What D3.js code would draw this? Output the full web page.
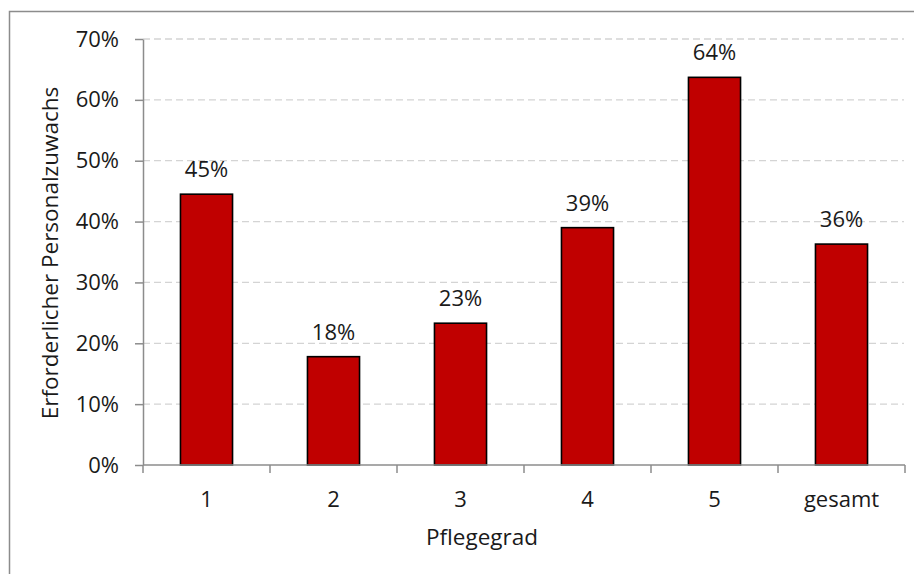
<!DOCTYPE html>
<html lang="de">
<head>
<meta charset="UTF-8">
<title>Personalzuwachs nach Pflegegrad</title>
<script src="https://d3js.org/d3.v7.min.js"></script>
<style>
    body { margin: 0; background: #fff; }
    svg { display: block; font-family: "Open Sans", sans-serif; }
</style>
</head>
<body>
<svg id="chart" width="914" height="574"></svg>
<script>
    // data
    const categories = ["1", "2", "3", "4", "5", "gesamt"];
    const values = [0.445, 0.178, 0.233, 0.390, 0.637, 0.363];
    const labels = ["45%", "18%", "23%", "39%", "64%", "36%"];
    const yTicks = [0, 0.1, 0.2, 0.3, 0.4, 0.5, 0.6, 0.7];

    const svg = d3.select("#chart");
    const plotLeft = 143, plotRight = 905, plotTop = 39, plotBottom = 465;
    const ink = "#1a1a1a";

    // outer frame, runs past the right and bottom edges
    svg.append("rect")
        .attr("x", 9.5).attr("y", 11.5)
        .attr("width", 930).attr("height", 600)
        .attr("fill", "none")
        .attr("stroke", "#8c8c8c")
        .attr("stroke-width", 1.5);

    const x = d3.scaleBand()
        .domain(categories)
        .range([plotLeft, plotRight])
        .paddingInner(0.59)
        .paddingOuter(0.295);

    const y = d3.scaleLinear()
        .domain([0, 0.7])
        .range([plotBottom, plotTop]);

    // gridlines
    svg.append("g")
        .selectAll("line")
        .data(yTicks.filter(d => d > 0))
        .enter().append("line")
        .attr("x1", plotLeft).attr("x2", plotRight - 1)
        .attr("y1", d => y(d)).attr("y2", d => y(d))
        .attr("stroke", "#d4d4d4")
        .attr("stroke-width", 1.3)
        .attr("stroke-dasharray", "7,4");

    // y axis
    const yAxis = svg.append("g")
        .attr("transform", `translate(${plotLeft},0)`)
        .call(d3.axisLeft(y).tickValues(yTicks).tickFormat(d3.format(".0%")).tickSizeInner(8).tickSizeOuter(0).tickPadding(16));
    yAxis.select(".domain").attr("stroke", "#8c8c8c").attr("stroke-width", 1.5);
    yAxis.selectAll(".tick line").attr("stroke", "#8c8c8c").attr("stroke-width", 1.5);
    yAxis.selectAll(".tick text").attr("font-size", 22).attr("fill", ink).attr("font-family", "Open Sans");

    // bars
    svg.append("g")
        .selectAll("rect")
        .data(values)
        .enter().append("rect")
        .attr("x", (d, i) => x(categories[i]))
        .attr("y", d => y(d))
        .attr("width", x.bandwidth())
        .attr("height", d => plotBottom - y(d))
        .attr("fill", "#c00000")
        .attr("stroke", "#000")
        .attr("stroke-width", 1.6);

    // x axis with ticks between categories
    const xAxis = svg.append("g").attr("transform", `translate(0,${plotBottom})`);
    xAxis.append("line")
        .attr("x1", plotLeft).attr("x2", plotRight)
        .attr("stroke", "#8c8c8c").attr("stroke-width", 1.5);
    const step = x.step();
    const edges = d3.range(categories.length + 1).map(i => plotLeft + i * step);
    xAxis.selectAll(".sep")
        .data(edges)
        .enter().append("line")
        .attr("class", "sep")
        .attr("x1", d => d).attr("x2", d => d)
        .attr("y1", 0).attr("y2", 8)
        .attr("stroke", "#8c8c8c").attr("stroke-width", 1.5);
    xAxis.selectAll(".lbl")
        .data(categories)
        .enter().append("text")
        .attr("class", "lbl")
        .attr("x", d => x(d) + x.bandwidth() / 2)
        .attr("y", 42)
        .attr("text-anchor", "middle")
        .attr("font-size", 22)
        .attr("fill", ink)
        .text(d => d);

    // value labels
    svg.append("g")
        .selectAll("text")
        .data(values)
        .enter().append("text")
        .attr("x", (d, i) => x(categories[i]) + x.bandwidth() / 2)
        .attr("y", d => y(d) - 17)
        .attr("text-anchor", "middle")
        .attr("font-size", 22)
        .attr("fill", ink)
        .text((d, i) => labels[i]);

    // axis titles
    svg.append("text")
        .attr("x", 482)
        .attr("y", 545)
        .attr("text-anchor", "middle")
        .attr("font-size", 22.5)
        .attr("fill", ink)
        .text("Pflegegrad");

    svg.append("text")
        .attr("transform", "translate(58,253) rotate(-90)")
        .attr("text-anchor", "middle")
        .attr("font-size", 22.5)
        .attr("fill", ink)
        .text("Erforderlicher Personalzuwachs");
</script>
</body>
</html>
